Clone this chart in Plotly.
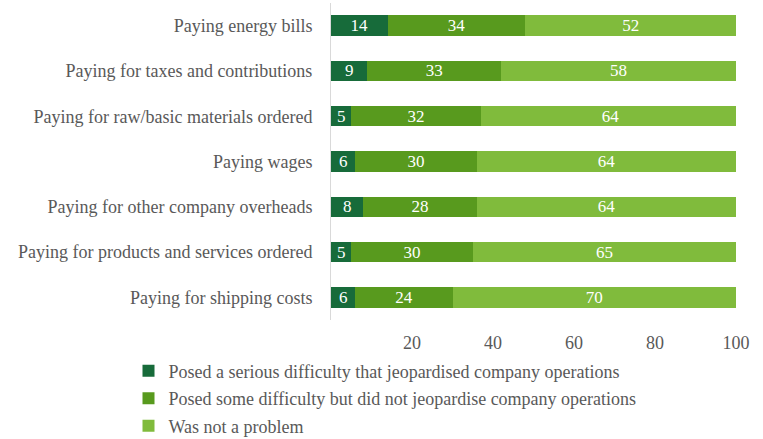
import plotly.graph_objects as go

categories = [
    "Paying energy bills",
    "Paying for taxes and contributions",
    "Paying for raw/basic materials ordered",
    "Paying wages",
    "Paying for other company overheads",
    "Paying for products and services ordered",
    "Paying for shipping costs",
]
serious = [14, 9, 5, 6, 8, 5, 6]
some = [34, 33, 32, 30, 28, 30, 24]
not_problem = [52, 58, 64, 64, 64, 65, 70]
series_names = [
    "Posed a serious difficulty that jeopardised company operations",
    "Posed some difficulty but did not jeopardise company operations",
    "Was not a problem",
]
tick_vals = [20, 40, 60, 80, 100]

colors = ["#176b3a", "#589a1e", "#80bb3c"]
font_family = "Liberation Serif, DejaVu Serif, serif"
fsize = 18

fig = go.Figure()
for i, (name, vals) in enumerate(zip(series_names, [serious, some, not_problem])):
    fig.add_trace(go.Bar(
        y=categories, x=vals, name=name, orientation="h",
        marker=dict(color=colors[i], line=dict(width=0)),
        text=[str(v) for v in vals], textposition="inside",
        insidetextanchor="middle", textangle=0, constraintext="none",
        textfont=dict(color="white", size=17, family=font_family),
        legendgroup=f"g{i}",
        hoverinfo="skip",
    ))

fig.update_layout(
    width=763, height=439,
    barmode="stack", bargap=0.55,
    plot_bgcolor="white", paper_bgcolor="white",
    margin=dict(l=331, r=27, t=3, b=119, autoexpand=False),
    font=dict(family=font_family, size=fsize, color="#595959"),
    uniformtext=dict(mode=False),
    legend=dict(
        orientation="v", x=-0.5, xanchor="left",
        y=-0.103, yanchor="top",
        traceorder="grouped", tracegroupgap=1, itemwidth=30,
        font=dict(size=fsize, color="#595959", family=font_family),
        bgcolor="rgba(0,0,0,0)",
    ),
    showlegend=True,
)
fig.update_xaxes(
    range=[0, 100], tickvals=tick_vals, showgrid=False, zeroline=False,
    showline=False, ticks="", ticklabelstandoff=10,
    tickfont=dict(size=fsize, color="#595959"),
)
fig.update_yaxes(
    autorange="reversed", showgrid=False, zeroline=False,
    showline=True, linecolor="#d9d9d9", linewidth=1,
    ticks="", ticklabelstandoff=14,
    tickfont=dict(size=fsize, color="#595959"),
)

fig.write_html("out.html")
